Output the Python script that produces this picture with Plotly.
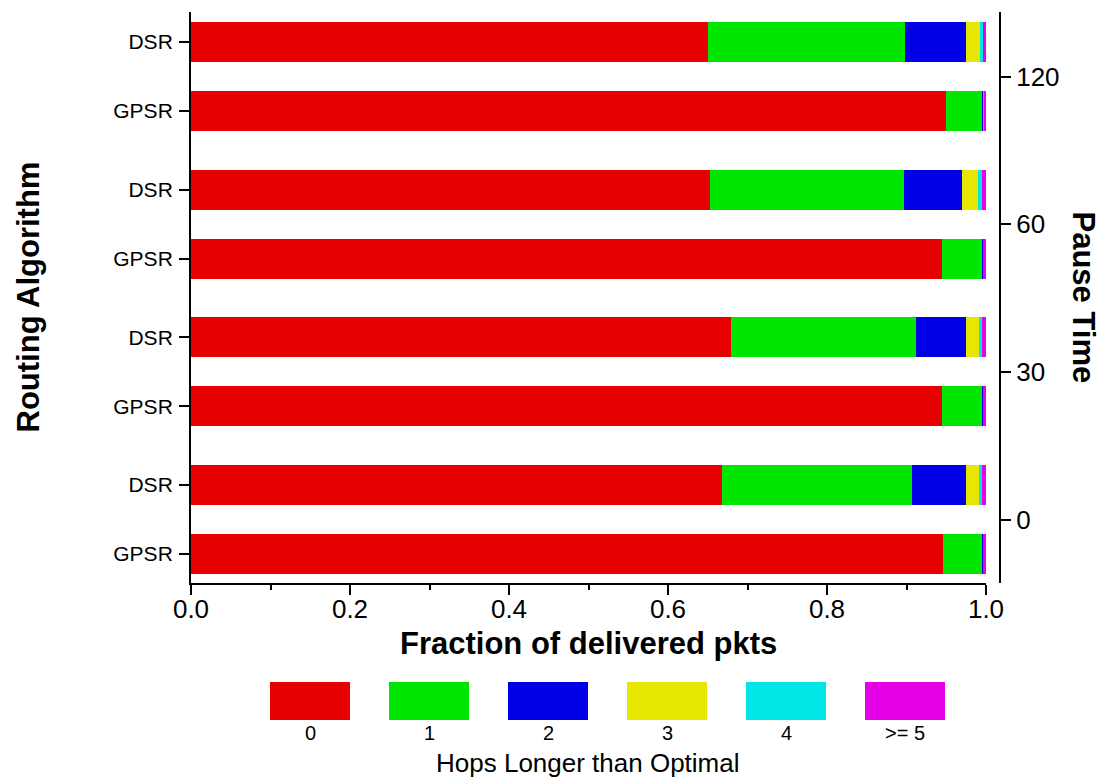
import plotly.graph_objects as go

# ---- data ----
pause_times = [0, 30, 60, 120]
algorithms = ["DSR", "GPSR"]
hop_labels = ["0", "1", "2", "3", "4", ">= 5"]
# bar order: DSR-0, GPSR-0, DSR-30, GPSR-30, DSR-60, GPSR-60, DSR-120, GPSR-120
hop0 = [0.668, 0.946, 0.679, 0.945, 0.653, 0.945, 0.650, 0.950]
hop1 = [0.239, 0.049, 0.233, 0.050, 0.244, 0.050, 0.248, 0.045]
hop2 = [0.068, 0.001, 0.063, 0.001, 0.073, 0.001, 0.077, 0.0015]
hop3 = [0.016, 0.000, 0.016, 0.000, 0.020, 0.000, 0.0175, 0.000]
hop4 = [0.004, 0.000, 0.004, 0.000, 0.005, 0.000, 0.0035, 0.0005]
hop5 = [0.005, 0.004, 0.005, 0.004, 0.005, 0.004, 0.004, 0.003]
colors = ["#E60000", "#00E600", "#0000E6", "#E6E600", "#00E6E6", "#E600E6"]

series = [hop0, hop1, hop2, hop3, hop4, hop5]

# ---- layout geometry ----
W, H = 1106, 780
L, R, T, B = 191, 106, 12, 197
PW, PH = W - L - R, H - T - B
OFF = 0.2335
BAR_W = 0.27

def px(x):
    return (x - L) / PW

def py(y):
    return (H - B - y) / PH

bar_y = []
bar_lbl = []
for k, _ in enumerate(pause_times):
    for a in algorithms:
        bar_y.append(k + OFF if a == "DSR" else k - OFF)
        bar_lbl.append(a)

FONT = "Arial, Liberation Sans, sans-serif"

fig = go.Figure()
for lbl, vals, col in zip(hop_labels, series, colors):
    fig.add_trace(go.Bar(
        x=vals, y=bar_y, orientation="h", width=BAR_W, name=lbl,
        marker=dict(color=col, line=dict(width=0)), showlegend=False,
    ))

# invisible trace so the right axis is drawn
fig.add_trace(go.Scatter(x=[0] * len(pause_times), y=list(range(len(pause_times))),
                         yaxis="y2", mode="markers", marker=dict(opacity=0),
                         showlegend=False, hoverinfo="skip"))

yr = [-0.43, 3.437]
axis_common = dict(showline=True, linecolor="black", linewidth=2,
                   ticks="outside", tickcolor="black", tickwidth=2, ticklen=10,
                   showgrid=False, zeroline=False)

fig.update_layout(
    width=W, height=H,
    margin=dict(l=L, r=R, t=T, b=B),
    plot_bgcolor="white", paper_bgcolor="white",
    font=dict(family=FONT, color="black"),
    barmode="stack",
    xaxis=dict(range=[0, 1], domain=[0, 795 / PW], dtick=0.2, tick0=0,
               tickformat=".1f", tickfont=dict(size=26), ticklabelstandoff=-8,
               minor=dict(dtick=0.1, ticks="outside", ticklen=5, tickwidth=2, tickcolor="black"),
               **axis_common),
    yaxis=dict(range=yr, tickvals=bar_y, ticktext=bar_lbl, ticklabelstandoff=2,
               tickfont=dict(size=21), **axis_common),
    yaxis2=dict(range=yr, overlaying="y", side="right", anchor="free", position=1,
                tickvals=list(range(len(pause_times))), ticktext=[str(p) for p in pause_times],
                tickfont=dict(size=26), **axis_common),
)

ann = [
    dict(text="<b>Fraction of delivered pkts</b>", x=px(588.5), y=py(643),
         font=dict(size=31)),
    dict(text="<b>Routing Algorithm</b>", x=px(28), y=py(297.5), textangle=-90,
         font=dict(size=31)),
    dict(text="<b>Pause Time</b>", x=px(1083), y=py(297.5), textangle=90,
         font=dict(size=31)),
    dict(text="Hops Longer than Optimal", x=px(588), y=py(763), font=dict(size=26)),
]
shapes = []
for i, (lbl, col) in enumerate(zip(hop_labels, colors)):
    x0 = 270 + i * 119
    shapes.append(dict(type="rect", xref="paper", yref="paper",
                       x0=px(x0), x1=px(x0 + 80), y0=py(720), y1=py(682),
                       fillcolor=col, line=dict(width=0)))
    ann.append(dict(text=lbl, x=px(x0 + 40), y=py(733), font=dict(size=20)))

for a in ann:
    a.update(xref="paper", yref="paper", showarrow=False,
             xanchor="center", yanchor="middle")
fig.update_layout(annotations=ann, shapes=shapes)

fig.write_html("out.html", config={"displayModeBar": False},
               post_script="document.body.style.margin='0px';document.body.style.overflow='hidden';")
